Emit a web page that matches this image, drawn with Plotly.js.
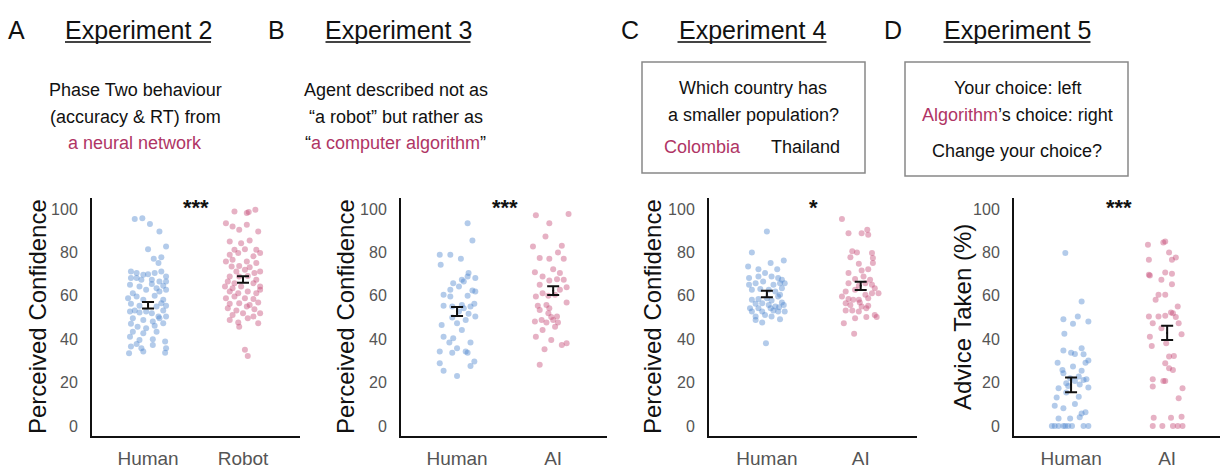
<!DOCTYPE html>
<html>
<head>
<meta charset="utf-8">
<script src="https://cdn.plot.ly/plotly-3.0.1.min.js"></script>
<style>html,body{margin:0;padding:0;background:#fff;}#chart{width:1222px;height:468px;}</style>
</head>
<body>
<div id="chart"></div>
<script>
// ---------------- DATA ----------------
const panelLetters = ["A", "B", "C", "D"];
const experimentTitles = ["Experiment 2", "Experiment 3", "Experiment 4", "Experiment 5"];
const groupLabelsA = ["Human", "Robot"];
const groupLabelsB = ["Human", "AI"];
const groupLabelsC = ["Human", "AI"];
const groupLabelsD = ["Human", "AI"];
const yTitles = ["Perceived Confidence", "Perceived Confidence", "Perceived Confidence", "Advice Taken (%)"];
const yTickVals = [0, 20, 40, 60, 80, 100];
const significance = ["***", "***", "*", "***"];

// group means and standard errors [Human, Agent]
const meansA = [55.7, 67.5], seA = [1.5, 1.5];
const meansB = [52.8, 62.4], seB = [2.1, 2.0];
const meansC = [60.8, 64.6], seC = [1.5, 1.9];
const meansD = [19.0, 42.9], seD = [3.4, 3.3];

// individual participants: jitter offset (category units) and value
const humanA_jit = [-0.14,-0.06,0.02,0.12,0,0.19,0.06,0.14,0.11,-0.18,-0.12,-0.05,0,0.07,0.14,0.19,-0.18,-0.12,-0.07,0.04,0.12,0.19,-0.19,-0.09,0.04,0.09,0.16,-0.16,-0.02,0.12,0.19,-0.21,-0.12,-0.05,0.07,0.16,0.19,-0.18,-0.09,0.09,0.14,-0.19,-0.14,-0.09,-0.02,0.04,0.11,0.16,0.19,-0.16,-0.05,0.05,0.12,-0.18,-0.11,-0.02,0.07,0.16,-0.16,-0.05,0.09,-0.19,-0.09,0.05,0.18,-0.12,-0.18,-0.07,0.05,0.19,-0.2,-0.05,0.18];
const humanA_val = [95.4,95.8,93.1,89.7,81.5,82.8,77.1,77.8,75.1,71.2,70.5,69.7,70.0,70.5,71.2,68.9,68.2,68.2,67.4,67.4,66.6,66.6,65.1,64.3,65.5,63.5,64.6,61.2,62.8,62.0,62.8,58.9,59.7,58.2,60.0,58.2,55.4,56.3,55.4,55.1,56.6,52.8,53.2,52.3,52.8,52.0,50.5,53.2,50.5,49.7,48.9,48.2,49.7,47.1,45.8,45.1,46.2,47.4,43.5,42.8,43.5,41.2,39.7,40.0,38.9,37.8,36.6,35.8,37.4,35.8,33.5,34.3,33.8];
const agentA_jit = [-0.09,0.04,0.06,0.13,-0.18,-0.11,-0.04,0.04,0.16,-0.14,-0.02,0.07,-0.09,0.02,0.14,-0.14,-0.05,0.11,0.18,-0.18,-0.11,0.04,0.14,-0.12,-0.04,0.07,-0.07,0.02,0.12,0.18,-0.14,-0.04,0.05,0.14,-0.16,-0.09,0.11,0.18,-0.19,-0.11,-0.02,-0.14,-0.05,0.05,0.14,0.18,-0.18,-0.09,0.02,0.11,-0.14,-0.04,0.07,0.16,-0.16,-0.07,0.04,0.12,-0.11,0,0.11,0.18,-0.14,-0.05,0.05,-0.04,0.16,0.02,0.05];
const agentA_val = [98.9,98.2,98.6,99.7,93.5,92.0,90.5,92.8,89.7,85.1,84.3,85.5,81.2,81.5,81.2,78.9,79.7,78.2,79.7,75.8,76.6,75.8,75.1,73.5,73.8,73.2,71.2,72.0,70.5,71.2,68.9,68.9,69.2,67.4,66.6,65.8,65.8,64.3,64.3,63.5,64.3,62.0,61.2,62.0,61.2,62.8,58.9,59.7,58.9,58.5,56.3,56.6,55.8,56.9,54.3,53.2,55.1,53.8,51.2,52.0,50.5,52.0,48.9,47.7,49.7,45.8,47.4,35.1,32.3];

const humanB_jit = [0.11,0.16,-0.18,-0.07,0.04,-0.17,0.12,0.11,0.19,0.05,-0.04,0.07,0.02,-0.07,0.16,0.19,-0.14,-0.07,0.11,-0.14,-0.05,0.05,0.14,0.18,0.02,0.07,0.12,0.19,-0.05,0.09,-0.16,0,0.05,-0.14,-0.04,-0.08,0.14,0,-0.18,0.09,0.11,-0.05,0.18,-0.18,0.14,-0.14,0];
const humanB_val = [93.5,85.5,78.9,78.9,77.1,74.3,70.5,68.9,68.2,67.4,65.8,66.6,64.3,62.8,62.5,62.0,60.5,59.7,60.0,55.4,55.1,55.8,55.1,56.3,52.8,54.3,51.7,50.5,50.0,48.9,46.6,47.4,44.3,41.2,40.5,38.5,38.5,35.8,34.3,34.3,33.8,33.8,29.7,28.9,27.7,25.5,23.1];
const agentB_jit = [-0.18,0.16,-0.04,-0.08,-0.21,0.09,0.05,-0.14,-0.04,0.11,-0.19,0,0.07,-0.11,0.04,-0.04,0.11,-0.14,0.14,0.07,-0.11,-0.05,0.02,-0.18,0.14,-0.07,-0.16,-0.14,-0.04,-0.05,0.04,-0.02,-0.12,-0.19,-0.07,0,0.05,0.02,-0.11,-0.18,-0.02,0.14,0.09,-0.09,-0.14];
const agentB_val = [97.1,97.7,93.5,87.4,82.8,83.1,80.0,77.4,77.1,77.1,70.9,72.3,70.5,68.9,67.7,67.1,67.4,65.1,64.0,62.8,61.2,60.0,60.5,59.7,56.9,55.8,55.4,53.5,54.3,52.0,50.5,50.2,48.9,48.2,47.7,48.9,47.7,45.8,44.3,41.2,39.7,38.2,37.4,35.4,28.2];

const humanC_jit = [0,-0.16,0.04,0.18,-0.2,-0.09,0.11,-0.02,-0.19,-0.09,0.05,0.12,0.16,-0.12,-0.04,0.07,0.14,-0.19,0.19,-0.16,-0.07,0.02,0.09,0.16,0.14,-0.16,-0.09,0,0.05,0.12,0.16,-0.12,-0.05,0.02,0.09,0.18,-0.18,-0.09,0.04,0.13,-0.16,-0.05,0.07,0.12,0.19,-0.12,-0.02,0.05,0.14,-0.05,-0.12,-0.01];
const humanC_val = [89.7,80.0,75.1,76.3,73.5,72.3,72.3,70.5,68.2,68.9,68.9,68.2,67.4,65.8,66.6,65.1,65.8,65.1,65.8,62.8,63.1,62.8,62.0,63.5,60.5,58.2,58.5,58.9,57.8,59.7,56.9,56.3,56.6,55.8,55.1,55.8,54.3,54.3,54.3,54.8,52.8,52.8,53.2,52.8,52.8,50.5,51.2,50.5,49.2,47.7,48.9,38.2];
const agentC_jit = [-0.2,-0.13,0.01,0.07,0.08,-0.09,-0.04,0.12,0.13,-0.11,-0.02,0.13,0.08,0.01,-0.13,-0.06,0.03,0.1,-0.13,-0.02,0.05,0.12,0.15,-0.16,-0.06,0.05,0.12,0.19,-0.2,-0.13,-0.02,0.08,-0.16,-0.08,-0.11,-0.01,0.01,0.08,-0.16,-0.09,-0.02,0.06,0.15,-0.06,0.17,0.06,-0.18,-0.07];
const agentC_val = [95.4,88.9,88.9,90.5,88.2,80.5,80.0,79.7,77.4,77.8,74.8,75.1,72.3,71.7,70.5,67.8,68.9,67.4,65.8,64.6,65.8,65.1,63.5,62.0,62.8,60.5,61.2,61.2,59.7,58.6,58.2,58.9,56.6,58.2,55.8,56.9,55.1,55.4,53.2,53.2,52.8,54.3,51.2,49.7,50.2,50.2,47.4,42.5];

const humanD_jit = [-0.06,0.11,-0.08,0.07,0.18,0.02,-0.07,-0.08,0,0.04,0.11,0.13,-0.14,0.18,0.15,-0.09,0.02,0.11,-0.08,0.08,-0.01,0.13,0.16,0.04,-0.05,0.09,-0.03,-0.13,0.18,-0.05,-0.15,0.08,0.04,-0.17,-0.08,0.15,0.11,0.09,-0.13,-0.01,-0.2,-0.17,-0.13,-0.08,-0.06,-0.03,0.01,0.13,0.18];
const humanD_val = [79.7,57.4,49.2,50.5,48.2,47.1,42.5,34.8,33.8,33.2,35.8,33.1,29.2,30.2,29.2,25.8,27.4,25.5,24.3,22.8,22.0,21.2,21.5,20.8,19.7,19.1,18.5,17.4,17.8,15.4,13.2,13.5,10.2,9.4,8.2,6.3,5.8,4.0,3.5,3.5,0,0,0,0,0,0,0,0,0];
const agentD_jit = [-0.2,-0.02,-0.04,0.02,-0.19,0.05,0.09,-0.19,-0.18,-0.02,0.05,-0.06,0.05,-0.09,-0.02,-0.12,0.11,0.04,0.06,-0.19,-0.09,-0.02,0.09,-0.15,0.12,-0.06,-0.18,0.15,-0.01,-0.16,0.02,0.07,-0.02,0.02,0.06,-0.15,-0.02,-0.04,-0.15,0.16,0.12,-0.14,0.04,0.15,-0.15,-0.05,0.06,0.11,0.16];
const agentD_val = [83.5,85.1,84.6,80.0,76.6,76.6,77.7,69.7,69.4,70.8,70.2,67.4,65.4,60.5,60.5,58.2,55.1,52.3,52.0,50.5,50.5,50.8,50.2,47.4,47.4,45.1,41.2,42.3,38.2,36.9,32.0,32.3,28.9,26.6,25.8,21.5,20.8,20.8,18.2,17.4,12.8,3.8,3.8,4.3,0,0,0,0,0];

// ---------------- LAYOUT HELPERS ----------------
const W = 1222, H = 468;
const px = x => x / W;
const py = y => 1 - y / H;
const FONT = "Liberation Sans, Arial, Helvetica, sans-serif";
const BLUE = "rgba(75,130,205,0.42)";
const PINK = "rgba(195,70,115,0.42)";
const ACCENT = "#b03565";

const panels = [
  {labels: groupLabelsA, means: meansA, se: seA, hj: humanA_jit, hv: humanA_val, aj: agentA_jit, av: agentA_val, dom: [92, 300], range: [0.41, 2.6]},
  {labels: groupLabelsB, means: meansB, se: seB, hj: humanB_jit, hv: humanB_val, aj: agentB_jit, av: agentB_val, dom: [401, 607], range: [0.417, 2.56]},
  {labels: groupLabelsC, means: meansC, se: seC, hj: humanC_jit, hv: humanC_val, aj: agentC_jit, av: agentC_val, dom: [709, 917], range: [0.383, 2.6]},
  {labels: groupLabelsD, means: meansD, se: seD, hj: humanD_jit, hv: humanD_val, aj: agentD_jit, av: agentD_val, dom: [1014, 1220], range: [0.406, 2.55]}
];

const yDom = [py(436), py(198)];
const yRange = [-4.6, 105.1];

const traces = [];
const layout = {
  width: W, height: H,
  margin: {l: 0, r: 0, t: 0, b: 0},
  paper_bgcolor: "#fff", plot_bgcolor: "#fff",
  showlegend: false,
  font: {family: FONT, color: "#222"},
  annotations: [], shapes: []
};

panels.forEach((p, i) => {
  const n = i === 0 ? "" : String(i + 1);
  const xa = "x" + n, ya = "y" + n;
  traces.push({
    type: "scatter", mode: "markers", xaxis: xa, yaxis: ya,
    x: p.hj.map(j => 1 + j), y: p.hv,
    marker: {size: 6, color: BLUE, line: {width: 0}}, hoverinfo: "skip"
  });
  traces.push({
    type: "scatter", mode: "markers", xaxis: xa, yaxis: ya,
    x: p.aj.map(j => 2 + j), y: p.av,
    marker: {size: 6, color: PINK, line: {width: 0}}, hoverinfo: "skip"
  });
  traces.push({
    type: "scatter", mode: "markers", xaxis: xa, yaxis: ya,
    x: [1, 2], y: p.means,
    marker: {size: 2, color: "#111"},
    error_y: {type: "data", array: p.se, visible: true, color: "#111", thickness: 2, width: 6},
    hoverinfo: "skip"
  });
  layout["xaxis" + n] = {
    domain: [px(p.dom[0]), px(p.dom[1])], anchor: ya, range: p.range,
    tickmode: "array", tickvals: [1, 2], ticktext: p.labels,
    showgrid: false, zeroline: false, showline: true, linecolor: "#111", linewidth: 2,
    ticks: "", ticklabelstandoff: 4,
    tickfont: {family: FONT, size: 19, color: "#555"}, fixedrange: true
  };
  layout["yaxis" + n] = {
    domain: yDom, anchor: xa, range: yRange,
    tickmode: "array", tickvals: yTickVals,
    showgrid: false, zeroline: false, showline: true, linecolor: "#111", linewidth: 2,
    ticks: "", ticklabelstandoff: 9,
    tickfont: {family: FONT, size: 16, color: "#555"}, fixedrange: true
  };
  // significance stars
  layout.annotations.push({
    xref: xa, yref: ya, x: 1.5, y: 100.5, text: "<b>" + significance[i] + "</b>", showarrow: false,
    font: {family: FONT, size: 22, color: "#111"}, yanchor: "middle"
  });
});

// axis titles (rotated)
const yTitleX = [37, 345, 652, 962];
yTitles.forEach((t, i) => {
  layout.annotations.push({
    xref: "paper", yref: "paper", x: px(yTitleX[i]), y: py(317), text: t, textangle: -90,
    showarrow: false, font: {family: FONT, size: 24, color: "#111"}, xanchor: "center", yanchor: "middle"
  });
});

// panel letters and experiment titles
const letterX = [16, 276, 630, 893];
const titleX = [138, 398, 752, 1017];
const titleW = [146, 145, 149, 147];
panelLetters.forEach((L, i) => {
  layout.annotations.push({
    xref: "paper", yref: "paper", x: px(letterX[i]), y: py(30), text: L, showarrow: false,
    font: {family: FONT, size: 25, color: "#111"}, xanchor: "center", yanchor: "middle"
  });
  layout.annotations.push({
    xref: "paper", yref: "paper", x: px(titleX[i]), y: py(30), text: experimentTitles[i], showarrow: false,
    font: {family: FONT, size: 25, color: "#111"}, xanchor: "center", yanchor: "middle"
  });
  layout.shapes.push({
    type: "line", xref: "paper", yref: "paper",
    x0: px(titleX[i] - titleW[i] / 2), x1: px(titleX[i] + titleW[i] / 2), y0: py(42), y1: py(42),
    line: {color: "#444", width: 2}
  });
});

function txt(x, y, text) {
  layout.annotations.push({
    xref: "paper", yref: "paper", x: px(x), y: py(y), text: text, showarrow: false,
    font: {family: FONT, size: 18, color: "#111"}, xanchor: "center", yanchor: "middle"
  });
}
const pink = s => '<span style="color:' + ACCENT + '">' + s + '</span>';

// Panel A description
txt(135, 90, "Phase Two behaviour");
txt(135, 117, "(accuracy &amp; RT) from");
txt(135, 143, pink("a neural network"));
// Panel B description
txt(396, 90, "Agent described not as");
txt(396, 117, "\u201ca robot\u201d but rather as");
txt(396, 143, "\u201c" + pink("a computer algorithm") + "\u201d");
// Panel C box
layout.shapes.push({type: "rect", xref: "paper", yref: "paper", x0: px(642), x1: px(865), y0: py(62), y1: py(173), line: {color: "#888", width: 1.5}});
txt(753, 88, "Which country has");
txt(753, 115, "a smaller population?");
txt(702, 147, pink("Colombia"));
txt(805, 147, "Thailand");
// Panel D box
layout.shapes.push({type: "rect", xref: "paper", yref: "paper", x0: px(905), x1: px(1128), y0: py(62), y1: py(176), line: {color: "#888", width: 1.5}});
txt(1017, 88, "Your choice: left");
txt(1017, 115, pink("Algorithm") + "\u2019s choice: right");
txt(1017, 151, "Change your choice?");

Plotly.newPlot("chart", traces, layout, {displayModeBar: false, staticPlot: true});
</script>
</body>
</html>
